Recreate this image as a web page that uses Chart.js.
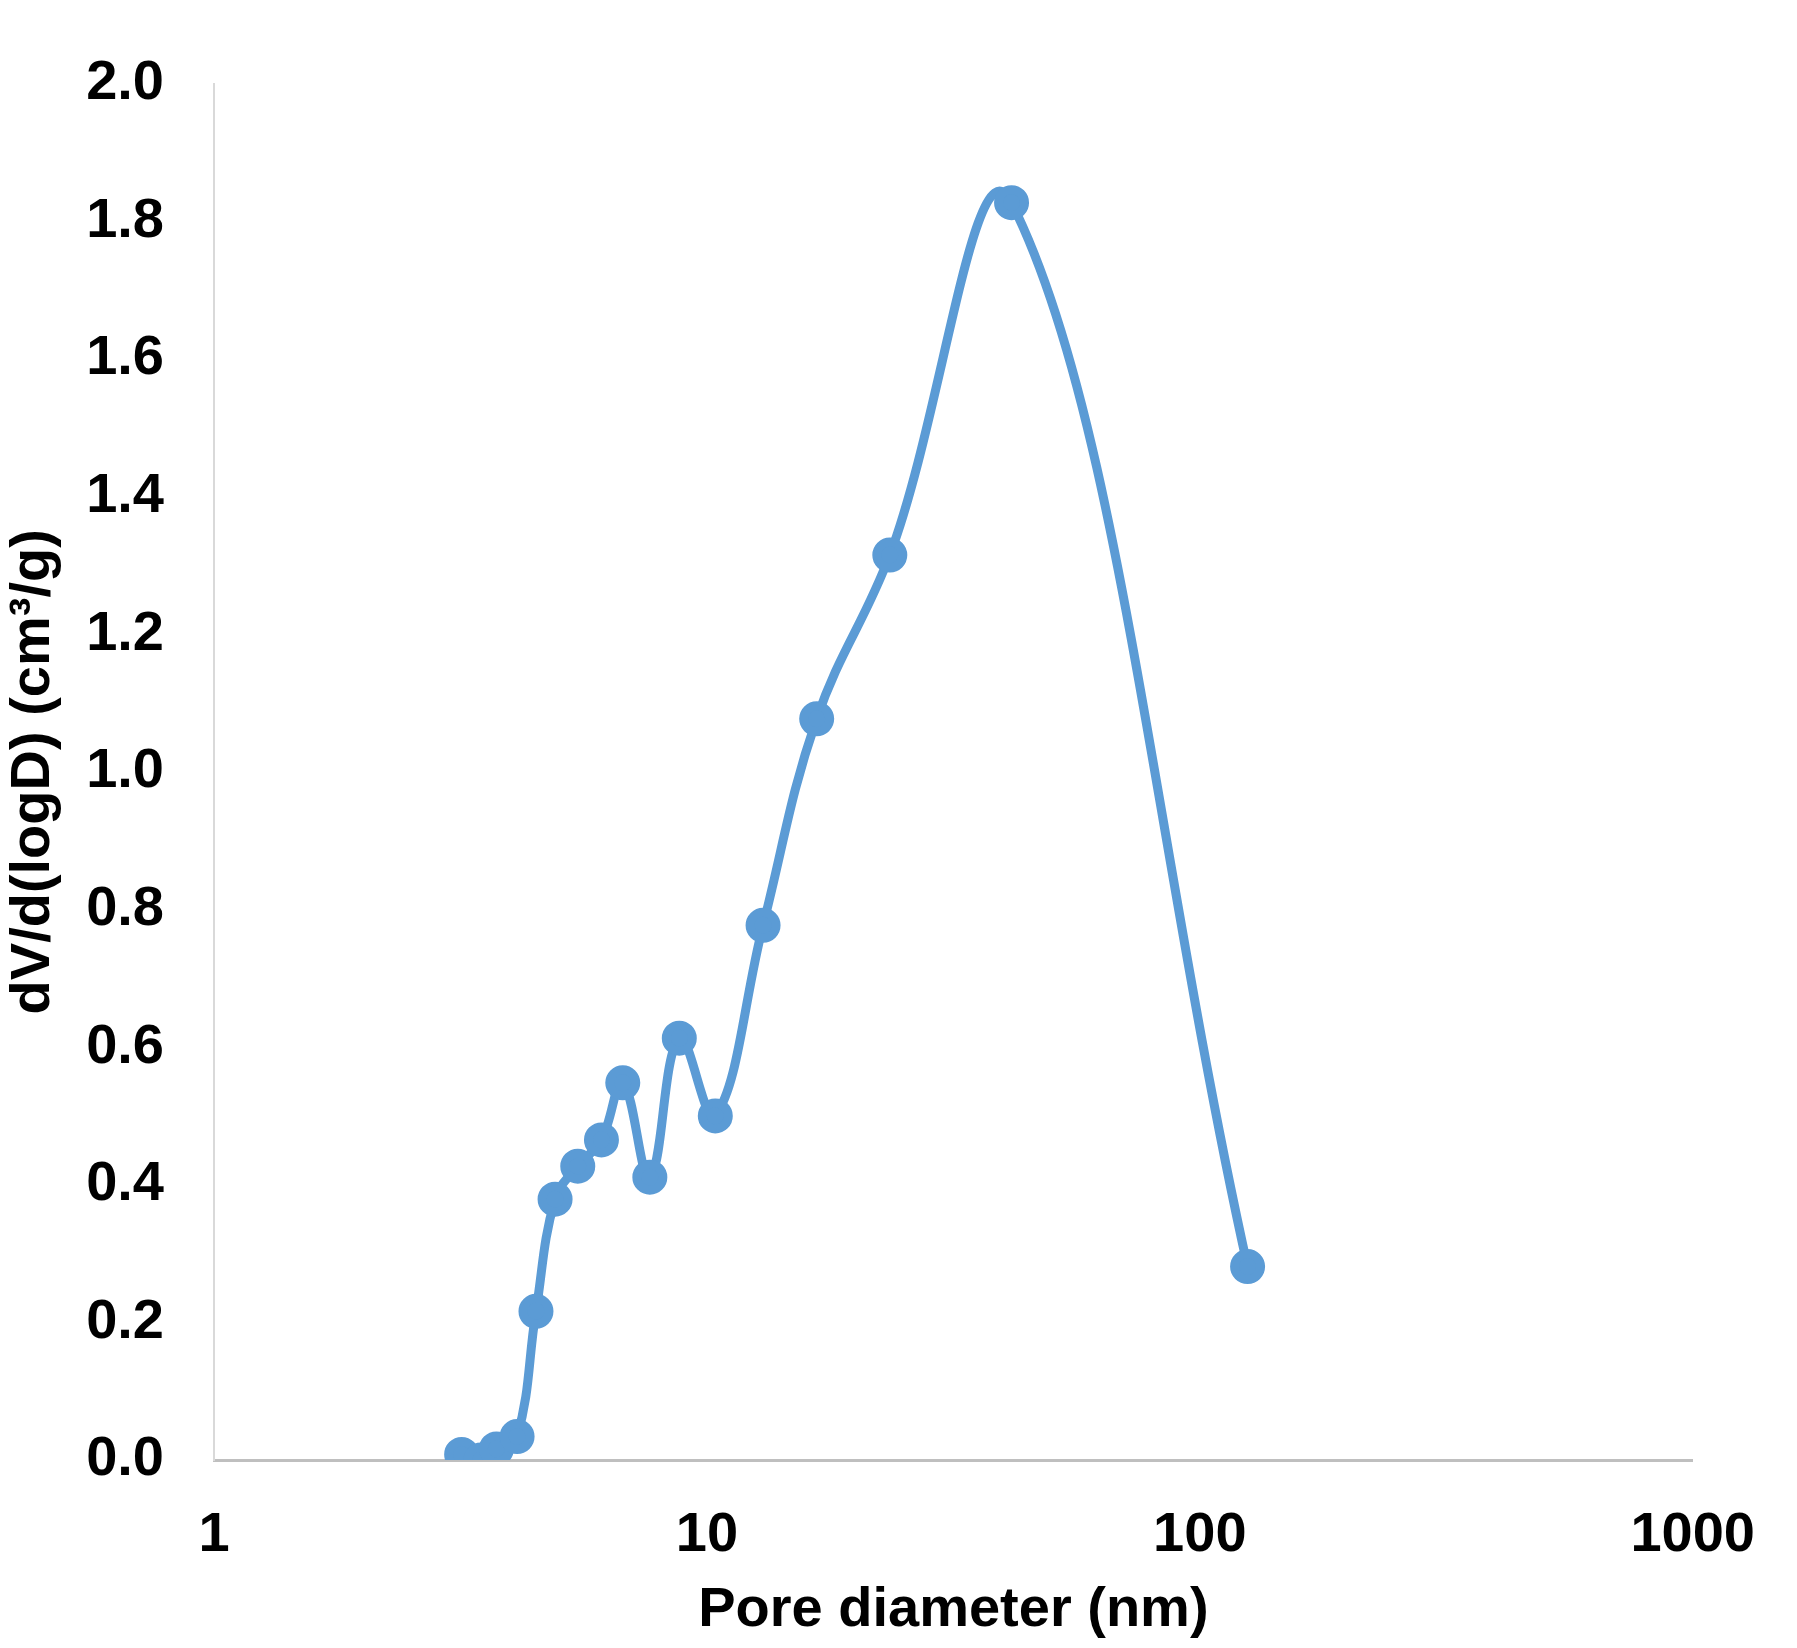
<!DOCTYPE html>
<html><head><meta charset="utf-8">
<script src="https://cdn.jsdelivr.net/npm/chart.js@4/dist/chart.umd.min.js"></script>
<style>html,body{margin:0;padding:0;background:#fff}#c{display:block}</style>
</head><body>
<canvas id="c" width="1797" height="1648"></canvas>
<script>
const poreDiameter = [3.18, 3.48, 3.74, 4.12, 4.50, 4.92, 5.47, 6.11, 6.75, 7.66, 8.79, 10.4, 13.0, 16.7, 23.5, 41.5, 125];
const dVdlogD = [0.008, 0.0, 0.016, 0.034, 0.216, 0.379, 0.427, 0.465, 0.548, 0.411, 0.613, 0.50, 0.777, 1.077, 1.315, 1.827, 0.281];
const xTicks = [1, 10, 100, 1000];
const font = {family: '"Liberation Sans", Arial, sans-serif', weight: 'bold', size: 56};
new Chart(document.getElementById('c'), {
  type: 'line',
  data: {datasets: [{
    data: poreDiameter.map((x, i) => ({x, y: dVdlogD[i]})),
    borderColor: '#5b9bd5', backgroundColor: '#5b9bd5',
    borderWidth: 9, pointRadius: 13, pointHoverRadius: 13,
    tension: 0.4
  }]},
  options: {
    responsive: false, animation: false,
    layout: {padding: {top: 8, right: 14, left: 0, bottom: 0}},
    plugins: {legend: {display: false}, tooltip: {enabled: false}},
    scales: {
      x: {type: 'logarithmic', min: 1, max: 1000,
        afterBuildTicks: a => { a.ticks = xTicks.map(v => ({value: v})); },
        afterFit: s => { s.height = 188; },
        grid: {display: false, drawTicks: false},
        border: {color: '#bfbfbf', width: 3},
        ticks: {font, color: '#000', padding: 42, maxRotation: 0, callback: v => String(v)},
        title: {display: true, text: 'Pore diameter (nm)', font, color: '#000', padding: {top: 0}}
      },
      y: {min: 0, max: 2,
        afterFit: s => { s.width = 214; },
        grid: {display: false, drawTicks: false},
        border: {color: '#d9d9d9', width: 2},
        ticks: {font, color: '#000', stepSize: 0.2, padding: 50, callback: v => v.toFixed(1)},
        title: {display: true, text: 'dV/d(logD) (cm³/g)', font, color: '#000', padding: {top: 0, bottom: 0}}
      }
    }
  }
});
</script>
</body></html>
